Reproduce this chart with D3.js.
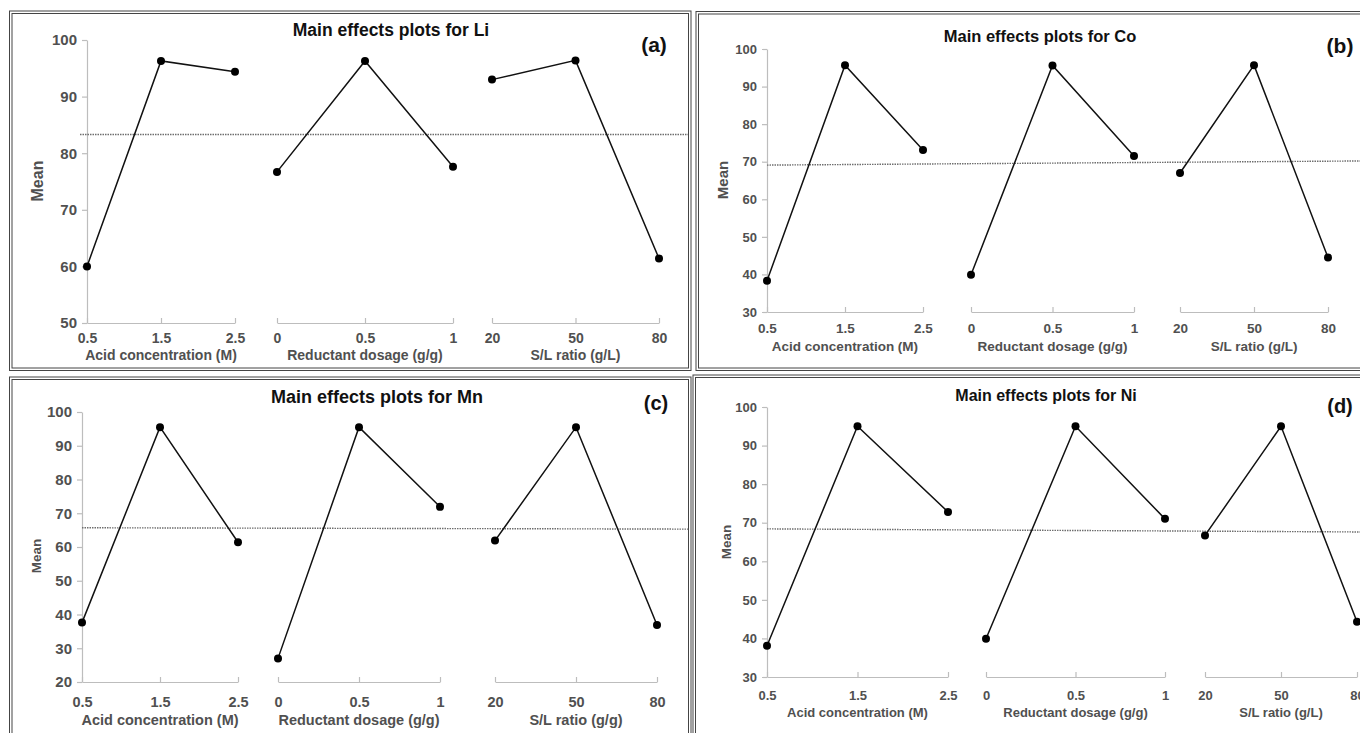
<!DOCTYPE html>
<html>
<head>
<meta charset="utf-8">
<script src="https://cdn.jsdelivr.net/npm/d3@7"></script>
<style>
  body {margin: 0; background: #fff;}
  svg {display: block;}
</style>
</head>
<body>
<div id="chart"></div>
<script>
//-- Data
var acid_levels = ['0.5', '1.5', '2.5'];
var reductant_levels = ['0', '0.5', '1'];
var sl_levels = ['20', '50', '80'];
var factor_levels = [acid_levels, reductant_levels, sl_levels];

var axis_titles_gL = ['Acid concentration (M)', 'Reductant dosage (g/g)', 'S/L ratio (g/L)'];
var axis_titles_gg = ['Acid concentration (M)', 'Reductant dosage (g/g)', 'S/L ratio (g/g)'];

//-- Means per factor: [acid, reductant, S/L]
var li_means = [[60.0, 96.3, 94.4], [76.7, 96.3, 77.6], [93.0, 96.4, 61.4]];
var co_means = [[38.3, 95.7, 73.1], [39.9, 95.6, 71.5], [67.0, 95.7, 44.5]];
var mn_means = [[37.6, 95.5, 61.4], [27.0, 95.5, 71.9], [61.9, 95.5, 36.9]];
var ni_means = [[38.1, 95.0, 72.8], [39.9, 95.0, 71.0], [66.7, 95.0, 44.3]];

//-- Grand mean line, value at left end and right end
var li_grand = [83.3, 83.3];
var co_grand = [69.1, 70.2];
var mn_grand = [65.7, 65.3];
var ni_grand = [68.4, 67.6];

var li_yticks = [50, 60, 70, 80, 90, 100];
var co_yticks = [30, 40, 50, 60, 70, 80, 90, 100];
var mn_yticks = [20, 30, 40, 50, 60, 70, 80, 90, 100];
var ni_yticks = [30, 40, 50, 60, 70, 80, 90, 100];

var elements = ['Li', 'Co', 'Mn', 'Ni'];
var tags = ['(a)', '(b)', '(c)', '(d)'];

//-- Layout of each panel
var layouts = [
  {box: [9.5, 11, 691, 370.5], yx: 87, ytop: 40, ybot: 323,
   groups: [[87, 235], [277, 453], [492, 659]], xbase: 343, tbase: 360,
   fs: {ytick: 15, xtick: 14, axis: 14, title: 17.5, tag: 21, mean: 16},
   title: [391, 36], tag: [654, 52], mean_lab: [37, 181], mean_x: [80, 688]},
  {box: [696, 11.5, 1366, 370.5], yx: 767, ytop: 49, ybot: 312,
   groups: [[767, 923], [971, 1134], [1180, 1328]], xbase: 333, tbase: 351,
   fs: {ytick: 13, xtick: 13.5, axis: 13.5, title: 16.5, tag: 21, mean: 15},
   title: [1040, 42], tag: [1340, 53], mean_lab: [722, 180], mean_x: [767, 1360]},
  {box: [9.5, 377, 691, 740], yx: 82, ytop: 412, ybot: 682,
   groups: [[82, 238], [278, 440], [495, 657]], xbase: 707, tbase: 725,
   fs: {ytick: 15, xtick: 14.5, axis: 14.5, title: 18, tag: 20, mean: 13.5},
   title: [377, 403], tag: [656, 410], mean_lab: [36, 556], mean_x: [82, 688]},
  {box: [693, 375, 1366, 740], yx: 767, ytop: 407, ybot: 677,
   groups: [[767, 948], [986, 1165], [1205, 1357]], xbase: 700, tbase: 717,
   fs: {ytick: 13, xtick: 13, axis: 13, title: 16, tag: 20, mean: 13.5},
   title: [1046, 401], tag: [1340, 413], mean_lab: [726, 542], mean_x: [767, 1360]}
];

var all_means = [li_means, co_means, mn_means, ni_means];
var all_grand = [li_grand, co_grand, mn_grand, ni_grand];
var all_yticks = [li_yticks, co_yticks, mn_yticks, ni_yticks];
var all_titles = [axis_titles_gL, axis_titles_gL, axis_titles_gg, axis_titles_gL];

var font = '"Liberation Sans", Arial, sans-serif';
var c_tick = '#505050';
var c_axis = '#bdbdbd';

function MEP_Make_Canvas(wrap) {
  wrap.svg = d3.select(wrap.id)
    .append('svg')
      .attr('width', wrap.tot_width)
      .attr('height', wrap.tot_height)
      .style('font-family', font)
      .style('font-weight', 'bold');
  
  wrap.svg.append('rect')
    .attr('width', '100%')
    .attr('height', '100%')
    .attr('fill', 'white');
}

function MEP_Draw_Box(svg, box) {
  //-- Double frame line
  var inset = [0, 2.5];
  svg.selectAll()
    .data(inset)
    .enter()
    .append('rect')
      .attr('x', function (d) {return box[0] + d;})
      .attr('y', function (d) {return box[1] + d;})
      .attr('width', function (d) {return box[2] - box[0] - 2*d;})
      .attr('height', function (d) {return box[3] - box[1] - 2*d;})
      .attr('fill', 'none')
      .attr('stroke', '#444')
      .attr('stroke-width', 1);
}

function MEP_Draw_Panel(svg, k) {
  var lay = layouts[k];
  var means = all_means[k];
  var yticks = all_yticks[k];
  var titles = all_titles[k];
  var grand = all_grand[k];
  
  MEP_Draw_Box(svg, lay.box);
  
  var g = svg.append('g');
  
  //-- y-axis
  var y = d3.scaleLinear()
    .domain([yticks[0], yticks[yticks.length-1]])
    .range([lay.ybot, lay.ytop]);
  
  var y_axis = d3.axisLeft(y)
    .tickValues(yticks)
    .tickSizeInner(5)
    .tickSizeOuter(0)
    .tickPadding(5);
  
  var gy = g.append('g')
    .attr('class', 'yaxis')
    .attr('transform', 'translate(' + lay.yx + ',0)')
    .call(y_axis)
    .attr('font-family', font)
    .attr('font-size', lay.fs.ytick);
  gy.selectAll('path, line').attr('stroke', c_axis).attr('stroke-width', 1.2);
  gy.selectAll('text').attr('fill', c_tick);
  
  //-- Grand mean, dotted
  g.append('line')
    .attr('x1', lay.mean_x[0])
    .attr('x2', lay.mean_x[1])
    .attr('y1', y(grand[0]))
    .attr('y2', y(grand[1]))
    .attr('stroke', '#6e6e6e')
    .attr('stroke-width', 1.4)
    .attr('stroke-dasharray', '1.5,1');
  
  //-- One x-axis and one line for each factor
  var line = d3.line()
    .x(function (d) {return d[0];})
    .y(function (d) {return d[1];});
  
  var i, j, x, gx, pts;
  for (i=0; i<factor_levels.length; i++) {
    x = d3.scalePoint()
      .domain(factor_levels[i])
      .range(lay.groups[i]);
    
    gx = g.append('g')
      .attr('class', 'xaxis')
      .attr('transform', 'translate(0,' + lay.ybot + ')')
      .call(d3.axisBottom(x).tickSizeInner(-5).tickSizeOuter(0))
      .attr('font-family', font)
      .attr('font-size', lay.fs.xtick);
    gx.selectAll('path, line').attr('stroke', c_axis).attr('stroke-width', 1.2);
    gx.selectAll('text')
      .attr('fill', c_tick)
      .attr('y', lay.xbase - lay.ybot)
      .attr('dy', 0);
    
    g.append('text')
      .attr('x', x(factor_levels[i][1]))
      .attr('y', lay.tbase)
      .attr('text-anchor', 'middle')
      .attr('font-size', lay.fs.axis)
      .attr('fill', c_tick)
      .text(titles[i]);
    
    pts = [];
    for (j=0; j<factor_levels[i].length; j++) {
      pts.push([x(factor_levels[i][j]), y(means[i][j])]);
    }
    
    g.append('path')
      .attr('d', line(pts))
      .attr('fill', 'none')
      .attr('stroke', '#111')
      .attr('stroke-width', 1.5);
    
    g.selectAll()
      .data(pts)
      .enter()
      .append('circle')
        .attr('cx', function (d) {return d[0];})
        .attr('cy', function (d) {return d[1];})
        .attr('r', 4)
        .attr('fill', '#000');
  }
  
  //-- Texts
  g.append('text')
    .attr('x', lay.title[0])
    .attr('y', lay.title[1])
    .attr('text-anchor', 'middle')
    .attr('font-size', lay.fs.title)
    .attr('fill', '#111')
    .text('Main effects plots for ' + elements[k]);
  
  g.append('text')
    .attr('x', lay.tag[0])
    .attr('y', lay.tag[1])
    .attr('text-anchor', 'middle')
    .attr('font-size', lay.fs.tag)
    .attr('fill', '#111')
    .text(tags[k]);
  
  g.append('text')
    .attr('transform', 'translate(' + lay.mean_lab[0] + ',' + lay.mean_lab[1] + ') rotate(-90)')
    .attr('text-anchor', 'middle')
    .attr('dominant-baseline', 'central')
    .attr('font-size', lay.fs.mean)
    .attr('fill', c_tick)
    .text('Mean');
}

var wrap = {id: '#chart', tot_width: 1360, tot_height: 733};
MEP_Make_Canvas(wrap);
for (var k=0; k<4; k++) MEP_Draw_Panel(wrap.svg, k);
</script>
</body>
</html>
